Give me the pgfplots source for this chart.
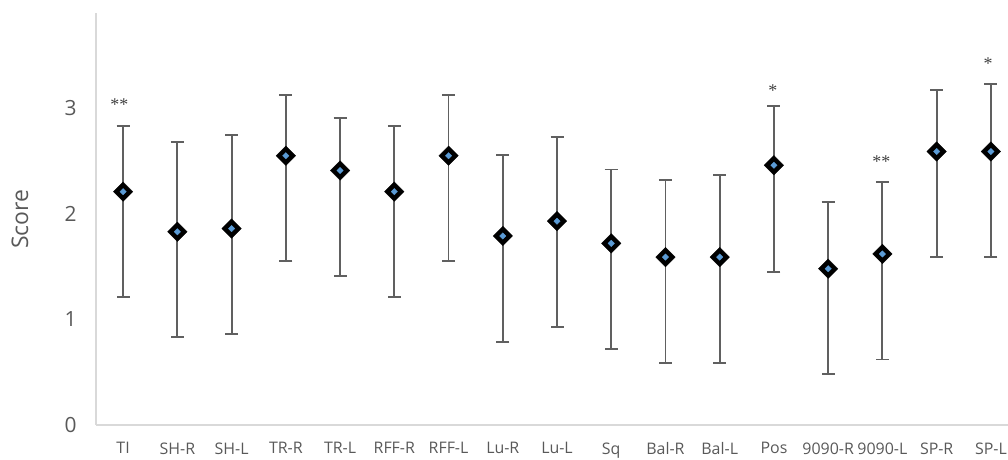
\documentclass[border=0pt]{standalone}
\usepackage{pgfplots}
\pgfplotsset{compat=1.18}
\usepackage{pgfplotstable}
\usepackage{fontspec}
\setmainfont{Open Sans}
\newfontfamily\serifast{Liberation Serif}
\definecolor{axgray}{HTML}{D9D9D9}
\definecolor{txtgray}{HTML}{595959}
\definecolor{errgray}{HTML}{606060}
\definecolor{mblue}{HTML}{5B9BD5}
\definecolor{astgray}{HTML}{404040}
\pgfplotstableread{
x y ep em
0 2.21 0.62 1.0
1 1.83 0.85 1.0
2 1.86 0.89 1.0
3 2.55 0.575 1.0
4 2.41 0.50 1.0
5 2.21 0.62 1.0
6 2.55 0.575 1.0
7 1.79 0.77 1.0
8 1.93 0.80 1.0
9 1.72 0.70 1.0
10 1.59 0.73 1.0
11 1.59 0.78 1.0
12 2.46 0.56 1.01
13 1.48 0.63 1.0
14 1.62 0.68 1.0
15 2.59 0.58 1.0
16 2.59 0.64 1.0
}\scores
\begin{document}
\begin{tikzpicture}[x=1bp,y=1bp]
\useasboundingbox (0,0) rectangle (1008,460);
\begin{axis}[
  at={(96bp,35bp)}, anchor=south west,
  scale only axis, width=922bp, height=411.8bp,
  xmin=-0.5, xmax=16.5, ymin=0, ymax=3.9,
  axis x line=bottom, axis y line=left,
  axis line style={axgray, line width=1.3bp, -},
  xtick={0,...,16},
  xticklabels={TI,SH-R,SH-L,TR-R,TR-L,RFF-R,RFF-L,Lu-R,Lu-L,Sq,Bal-R,Bal-L,Pos,9090-R,9090-L,SP-R,SP-L},
  ytick={0,1,2,3},
  major tick length=0,
  tick label style={txtgray},
  /pgf/number format/assume math mode=true,
  yticklabel style={font=\fontsize{21}{21}\selectfont, xshift=-16bp},
  xticklabel style={font=\fontsize{16}{16}\selectfont, yshift=-14bp},
  ylabel={Score},
  ylabel style={font=\fontsize{23}{23}\selectfont, txtgray, at={(axis description cs:-0.0824,0.5)}, anchor=center},
  clip=false,
]
\addplot[draw=none, mark=none, forget plot,
  error bars/.cd, y dir=both, y explicit,
  error bar style={errgray, line width=1.9bp},
  error mark options={rotate=90, errgray, mark size=6.5bp, line width=1.9bp}]
  table[x=x, y=y, y error plus=ep, y error minus=em] {\scores};
\addplot[only marks, mark=square*, mark size=6.9bp, forget plot,
  mark options={rotate=45, fill=black, draw=black, line width=0.3bp}]
  table[x=x, y=y] {\scores};
\addplot[only marks, mark=square*, mark size=2.3bp,
  mark options={rotate=45, fill=mblue, draw=mblue, line width=0.2bp}]
  table[x=x, y=y] {\scores};
\node[font=\serifast\fontsize{18}{18}\selectfont, astgray] at (axis cs:-0.07,3.03) {**};
\node[font=\serifast\fontsize{18}{18}\selectfont, astgray] at (axis cs:11.98,3.17) {*};
\node[font=\serifast\fontsize{18}{18}\selectfont, astgray] at (axis cs:13.98,2.49) {**};
\node[font=\serifast\fontsize{18}{18}\selectfont, astgray] at (axis cs:15.95,3.42) {*};
\end{axis}
\end{tikzpicture}
\end{document}
